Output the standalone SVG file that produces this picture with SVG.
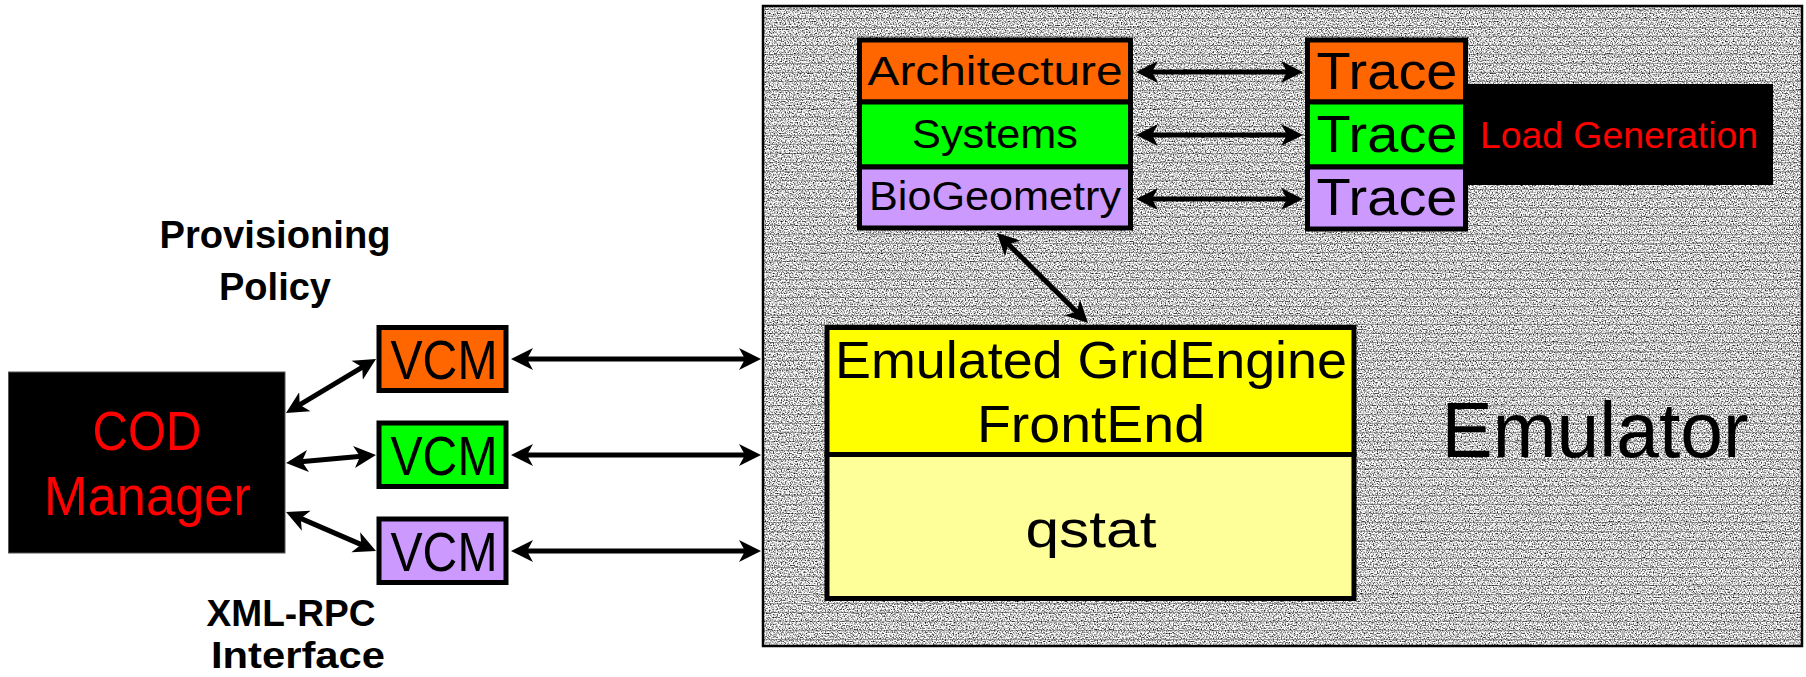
<svg xmlns="http://www.w3.org/2000/svg" width="1806" height="677" viewBox="0 0 1806 677">
<style>
.box{stroke:#000;stroke-width:5}
.t{font-family:"Liberation Sans","DejaVu Sans",sans-serif;text-anchor:middle;fill:#000}
.b{font-weight:bold}
.red{fill:#ff0000}
.conn{stroke:#000;stroke-width:5;fill:none;marker-start:url(#ah);marker-end:url(#ah)}
</style>
<defs>
<marker id="ah" viewBox="0 -13 24 26" markerWidth="24" markerHeight="26" refX="13" refY="0" markerUnits="userSpaceOnUse" orient="auto-start-reverse">
<path d="M0,-11 L22,0 L0,11 L6,0 Z" fill="#000"/>
</marker>
<filter id="grain" x="0" y="0" width="1" height="1" color-interpolation-filters="sRGB">
<feTurbulence type="fractalNoise" baseFrequency="0.75" numOctaves="1" seed="7"/>
<feColorMatrix type="matrix" values="2.6 0 0 0 -0.5  2.6 0 0 0 -0.5  2.6 0 0 0 -0.5  0 0 0 0 1"/>
</filter>
<pattern id="hl" width="10" height="9" patternUnits="userSpaceOnUse">
<rect x="0" y="0" width="10" height="1" fill="#333" fill-opacity="0.35"/>
</pattern>
</defs>

<g id="emulator">
<rect x="763" y="6" width="1039" height="640" fill="#aaa" filter="url(#grain)"/>
<rect x="763" y="6" width="1039" height="640" fill="url(#hl)"/>
<rect x="763" y="6" width="1039" height="640" fill="none" stroke="#000" stroke-width="2.5"/>
<text class="t" x="1595" y="457" font-size="78" textLength="307" lengthAdjust="spacingAndGlyphs">Emulator</text>
</g>

<g id="load-generation">
<rect x="1468" y="84" width="305" height="101" fill="#000"/>
<text class="t red" x="1619" y="148" font-size="36" textLength="278" lengthAdjust="spacingAndGlyphs">Load Generation</text>
</g>

<g id="architecture">
<rect class="box" x="859.5" y="40" width="271" height="62" fill="#ff6600"/>
<text class="t" x="995" y="85" font-size="40" textLength="255" lengthAdjust="spacingAndGlyphs">Architecture</text>
</g>
<g id="systems">
<rect class="box" x="859.5" y="102" width="271" height="65" fill="#00ff00"/>
<text class="t" x="995" y="148" font-size="40" textLength="166" lengthAdjust="spacingAndGlyphs">Systems</text>
</g>
<g id="biogeometry">
<rect class="box" x="859.5" y="167" width="271" height="61" fill="#cc99ff"/>
<text class="t" x="995" y="210" font-size="40" textLength="252" lengthAdjust="spacingAndGlyphs">BioGeometry</text>
</g>

<g id="trace-arch">
<rect class="box" x="1307.5" y="40" width="158" height="62" fill="#ff6600"/>
<text class="t" x="1387" y="89" font-size="52" textLength="141" lengthAdjust="spacingAndGlyphs">Trace</text>
</g>
<g id="trace-sys">
<rect class="box" x="1307.5" y="102" width="158" height="65" fill="#00ff00"/>
<text class="t" x="1387" y="152" font-size="52" textLength="141" lengthAdjust="spacingAndGlyphs">Trace</text>
</g>
<g id="trace-bio">
<rect class="box" x="1307.5" y="167" width="158" height="62" fill="#cc99ff"/>
<text class="t" x="1387" y="215" font-size="52" textLength="141" lengthAdjust="spacingAndGlyphs">Trace</text>
</g>

<g id="gridengine">
<rect class="box" x="827" y="327.5" width="527" height="127" fill="#ffff00"/>
<rect class="box" x="827" y="454.5" width="527" height="144" fill="#ffff99"/>
<text class="t" x="1091" y="378" font-size="52" textLength="512" lengthAdjust="spacingAndGlyphs">Emulated GridEngine</text>
<text class="t" x="1091" y="442" font-size="52" textLength="228" lengthAdjust="spacingAndGlyphs">FrontEnd</text>
<text class="t" x="1091" y="547" font-size="52" textLength="131" lengthAdjust="spacingAndGlyphs">qstat</text>
</g>

<g id="cod-manager">
<rect x="8.5" y="372" width="276.5" height="181" fill="#000" stroke="#555" stroke-width="1"/>
<text class="t red" x="147" y="450" font-size="56" textLength="109" lengthAdjust="spacingAndGlyphs">COD</text>
<text class="t red" x="147.5" y="515" font-size="56" textLength="207" lengthAdjust="spacingAndGlyphs">Manager</text>
</g>

<g id="vcm-orange">
<rect class="box" x="379" y="327.5" width="127" height="63" fill="#ff6600"/>
<text class="t" x="444" y="379" font-size="56" textLength="107" lengthAdjust="spacingAndGlyphs">VCM</text>
</g>
<g id="vcm-green">
<rect class="box" x="379" y="423" width="127" height="63.5" fill="#00ff00"/>
<text class="t" x="444" y="475" font-size="56" textLength="107" lengthAdjust="spacingAndGlyphs">VCM</text>
</g>
<g id="vcm-purple">
<rect class="box" x="379" y="519" width="127" height="63.5" fill="#cc99ff"/>
<text class="t" x="444" y="571" font-size="56" textLength="107" lengthAdjust="spacingAndGlyphs">VCM</text>
</g>

<g id="labels">
<text class="t b" x="275" y="248" font-size="38" textLength="231" lengthAdjust="spacingAndGlyphs">Provisioning</text>
<text class="t b" x="275" y="300" font-size="38" textLength="112" lengthAdjust="spacingAndGlyphs">Policy</text>
<text class="t b" x="291" y="626" font-size="36" textLength="169" lengthAdjust="spacingAndGlyphs">XML-RPC</text>
<text class="t b" x="298" y="668" font-size="36" textLength="174" lengthAdjust="spacingAndGlyphs">Interface</text>
</g>

<g id="connectors">
<line class="conn" x1="1145" y1="72" x2="1294" y2="72"/>
<line class="conn" x1="1145" y1="135" x2="1294" y2="135"/>
<line class="conn" x1="1145" y1="199" x2="1294" y2="199"/>
<line class="conn" x1="1003.4" y1="239.3" x2="1081.6" y2="316.7"/>
<line class="conn" x1="520" y1="359" x2="752" y2="359"/>
<line class="conn" x1="520" y1="455" x2="752" y2="455"/>
<line class="conn" x1="520" y1="551" x2="752" y2="551"/>
<line class="conn" x1="293.7" y1="408.4" x2="368.3" y2="363.6"/>
<line class="conn" x1="295" y1="462.2" x2="367" y2="455.8"/>
<line class="conn" x1="294.3" y1="515.6" x2="367.7" y2="547.4"/>
</g>
</svg>
